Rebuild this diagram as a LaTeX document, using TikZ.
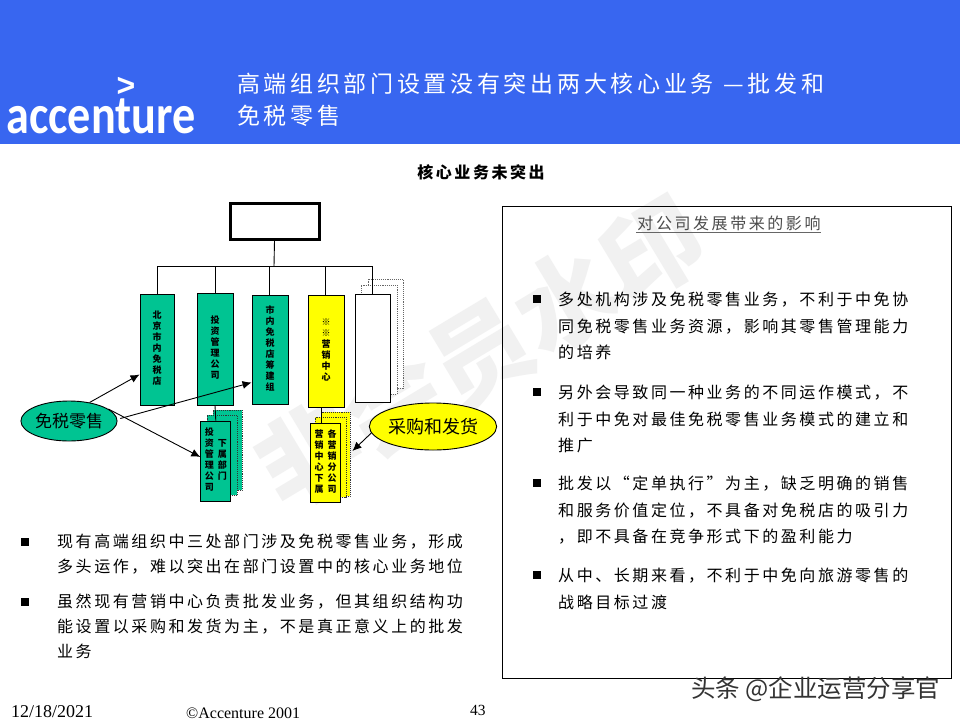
\documentclass[tikz,border=0pt]{standalone}
\usepackage{fontspec}
\setmainfont{Liberation Serif}
\newfontfamily\cjk[LetterSpace=16]{Noto Sans CJK SC}
\newfontfamily\cjktight{Noto Sans CJK SC}
\newfontfamily\logofont{Carlito}
\newfontfamily\arrowfont{Liberation Sans}
\usetikzlibrary{arrows.meta,shapes.geometric}
\definecolor{bannerblue}{RGB}{56,102,240}
\definecolor{dutygreen}{RGB}{0,196,146}
\definecolor{buyyellow}{RGB}{255,255,0}
\definecolor{markgray}{RGB}{241,241,241}
\newcommand{\vstack}[1]{\begin{tabular}[c]{@{}c@{}}#1\end{tabular}}
\begin{document}
\begin{tikzpicture}[x=1pt,y=1pt]
\tikzstyle{every node}+=[inner sep=0pt]
\tikzstyle{unitbox}=[draw=black,line width=0.9pt,font=\cjktight\bfseries\fontsize{9}{11}\selectfont]
\tikzstyle{dutybox}=[unitbox,fill=dutygreen]
\tikzstyle{buybox}=[unitbox,fill=buyyellow]
\tikzstyle{dutyback}=[draw=black!80,densely dotted,line width=0.9pt,fill=dutygreen]
\tikzstyle{buyback}=[draw=black!80,densely dotted,line width=0.9pt,fill=buyyellow]
\tikzstyle{blankback}=[draw=black!60,densely dotted,line width=0.9pt,fill=white]
\tikzstyle{oval}=[draw=black,ellipse,line width=0.9pt]
\tikzstyle{linkarrow}=[draw=black,line width=0.9pt,-{Latex[length=9pt,width=8pt]}]
\tikzstyle{para}=[anchor=north west,align=left,font=\cjk\fontsize{16}{26.5}\selectfont]
\tikzstyle{bulletmark}=[fill=black,minimum size=7.5pt]
\useasboundingbox (0,0) rectangle (960,-720);
\fill [white] (0,0) rectangle (960,-720);
\node [rotate=31,text=markgray,font=\cjktight\bfseries\fontsize{100}{100}\selectfont] (watermark) at (480,-352) {非会员水印};
\fill [bannerblue] (0,0) rectangle (960,-144);
% logo and title
\node [anchor=base,text=white,font=\logofont\bfseries\fontsize{55}{55}\selectfont] (logo) at (101,-133) {\scalebox{0.84}[1]{accenture}};
\node [text=white,font=\arrowfont\bfseries\fontsize{32}{32}\selectfont] (logomark) at (126,-87) {>};
\node [anchor=north west,align=left,text=white,font=\cjk\fontsize{23}{32}\selectfont] (title) at (237,-73) {高端组织部门设置没有突出两大核心业务\hspace{10pt}—批发和\\免税零售};
\node [font=\cjk\bfseries\fontsize{16}{20}\selectfont] (subtitle) at (481,-172) {核心业务未突出};
% org chart
\node [draw=black,line width=3pt,fill=white,minimum width=89pt,minimum height=36pt] (head) at (274.5,-221) {};
\coordinate (hub) at (274,-266);
\node [blankback,minimum width=35pt,minimum height=109pt] (blankbackb) at (385.5,-333.5) {};
\node [blankback,minimum width=36pt,minimum height=109pt] (blankbacka) at (379,-339.5) {};
\node [dutybox,minimum width=34pt,minimum height=111pt] (storeunit) at (157,-349.5) {\vstack{北\\京\\市\\内\\免\\税\\店}};
\node [dutybox,minimum width=36pt,minimum height=112pt] (investunit) at (215,-349) {\vstack{投\\资\\管\\理\\公\\司}};
\node [dutybox,minimum width=36pt,minimum height=109pt] (buildunit) at (270,-349.5) {\vstack{市\\内\\免\\税\\店\\筹\\建\\组}};
\node [buybox,minimum width=36pt,minimum height=112pt] (salesunit) at (326,-351) {\vstack{※\\※\\营\\销\\中\\心}};
\node [unitbox,fill=white,minimum width=35pt,minimum height=108pt] (blankunit) at (372.5,-348) {};
\node [dutyback,minimum width=29pt,minimum height=80pt] (investbackb) at (227.5,-450) {};
\node [dutyback,minimum width=30pt,minimum height=80pt] (investbacka) at (222,-455) {};
\node [dutybox,minimum width=30pt,minimum height=80pt] (investsub) at (215.8,-461) {\vstack{投\\资\\管\\理\\公\\司}\hspace{4pt}\vstack{下\\属\\部\\门}};
\node [buyback,minimum width=29pt,minimum height=84pt] (salesbackb) at (335.5,-454) {};
\node [buyback,minimum width=31pt,minimum height=80pt] (salesbacka) at (330.5,-457) {};
\node [buybox,minimum width=30pt,minimum height=79pt] (salessub) at (325.5,-462.5) {\vstack{营\\销\\中\\心\\下\\属}\hspace{4pt}\vstack{各\\营\\销\\分\\公\\司}};
\draw [black,line width=0.9pt] (head.south) -- (hub);
\foreach \unit/\shift in {storeunit/0,investunit/0,buildunit/-1,salesunit/-1,blankunit/0}
  \draw [black,line width=0.9pt] (hub) -| ([xshift=\shift pt]\unit.north);
\draw [black,line width=0.9pt] (investunit.south) -- (investsub.north);
\draw [black,line width=0.9pt] ([xshift=-5pt]salesunit.south) -- ([xshift=-4.5pt]salessub.north);
% ovals and arrows
\node [oval,fill=dutygreen,minimum width=96pt,minimum height=40pt,font=\cjktight\fontsize{17}{20}\selectfont] (dutyoval) at (69,-421) {免税零售};
\node [oval,fill=buyyellow,minimum width=112pt,minimum height=47pt,font=\cjktight\fontsize{18}{20}\selectfont] (buyoval) at (433,-426.5) {采购和发货};
\draw [linkarrow] (dutyoval.42) -- ([yshift=-25pt]storeunit.west);
\draw [linkarrow,shorten <=3pt] (dutyoval.2) -- ([yshift=-33pt]buildunit.west);
\draw [linkarrow,shorten <=3pt] (dutyoval.20) -- ([yshift=4pt]investsub.west);
\draw [linkarrow] (buyoval.186) -- ([xshift=2pt,yshift=3pt]salesbackb.east);
% left notes
\node [bulletmark] (leftmarka) at (25,-542) {};
\node [para,font=\cjk\fontsize{16}{25}\selectfont] (leftnotea) at (57,-534) {现有高端组织中三处部门涉及免税零售业务，形成\\多头运作，难以突出在部门设置中的核心业务地位};
\node [bulletmark] (leftmarkb) at (25,-602) {};
\node [para,font=\cjk\fontsize{16}{25}\selectfont] (leftnoteb) at (57,-594) {虽然现有营销中心负责批发业务，但其组织结构功\\能设置以采购和发货为主，不是真正意义上的批发\\业务};
% right panel
\node [draw=black,line width=0.9pt,minimum width=449pt,minimum height=472pt] (panel) at (726.5,-442) {};
\node [text=black!70,font=\cjk\fontsize{16}{20}\selectfont] (paneltitle) at (729,-223) {对公司发展带来的影响};
\draw [black!60,line width=0.8pt] (636,-232) -- (821,-232);
\node [bulletmark] (rightmarka) at (537,-299) {};
\node [para] (rightnotea) at (558,-292) {多处机构涉及免税零售业务，不利于中免协\\同免税零售业务资源，影响其零售管理能力\\的培养};
\node [bulletmark] (rightmarkb) at (537,-392) {};
\node [para] (rightnoteb) at (558,-385) {另外会导致同一种业务的不同运作模式，不\\利于中免对最佳免税零售业务模式的建立和\\推广};
\node [bulletmark] (rightmarkc) at (537,-483) {};
\node [para] (rightnotec) at (558,-476) {批发以“定单执行”为主，缺乏明确的销售\\和服务价值定位，不具备对免税店的吸引力\\，即不具备在竞争形式下的盈利能力};
\node [bulletmark] (rightmarkd) at (537,-575) {};
\node [para] (rightnoted) at (558,-568) {从中、长期来看，不利于中免向旅游零售的\\战略目标过渡};
% footer
\node [anchor=base west,font=\fontsize{18}{20}\selectfont] (date) at (11,-717) {12/18/2021};
\node [anchor=base west,font=\fontsize{16}{20}\selectfont] (copy) at (186,-718) {©Accenture 2001};
\node [anchor=base west,font=\fontsize{15.5}{20}\selectfont] (pagenum) at (470,-715) {43};
\node [anchor=west,text=black!80,font=\cjktight\fontsize{24.5}{25}\selectfont] (stamp) at (691,-689) {头条 @企业运营分享官};
\end{tikzpicture}
\end{document}
